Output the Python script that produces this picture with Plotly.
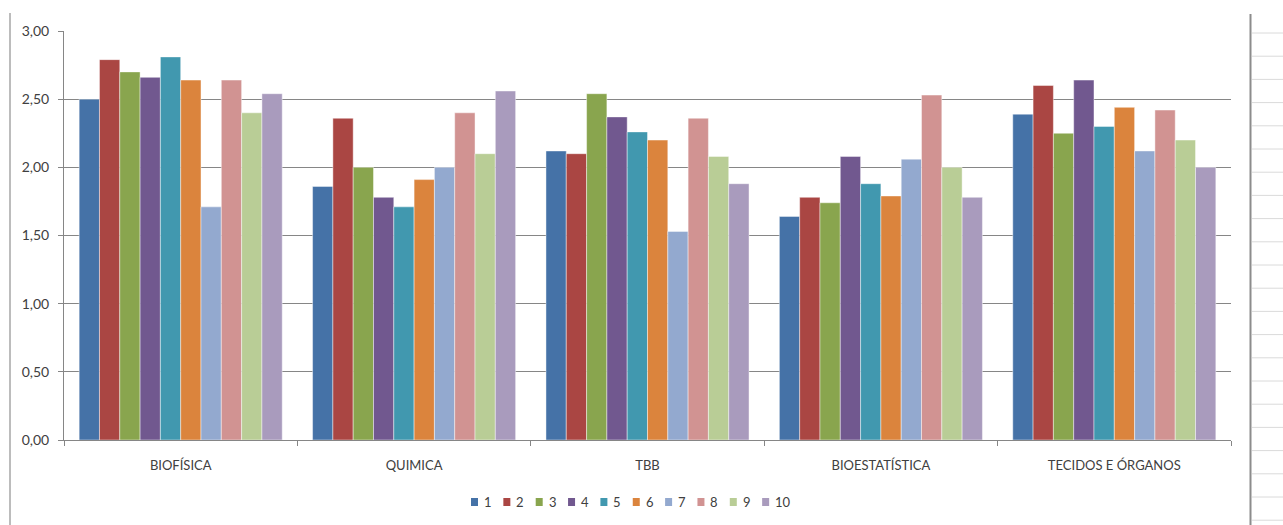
import plotly.graph_objects as go

# Disciplines on the category axis
categories = ["BIOFÍSICA", "QUIMICA", "TBB", "BIOESTATÍSTICA", "TECIDOS E ÓRGANOS"]

# One series per group 1..10 (values per discipline)
series_names = ["1", "2", "3", "4", "5", "6", "7", "8", "9", "10"]
s1 = [2.50, 1.86, 2.12, 1.64, 2.39]
s2 = [2.79, 2.36, 2.10, 1.78, 2.60]
s3 = [2.70, 2.00, 2.54, 1.74, 2.25]
s4 = [2.66, 1.78, 2.37, 2.08, 2.64]
s5 = [2.81, 1.71, 2.26, 1.88, 2.30]
s6 = [2.64, 1.91, 2.20, 1.79, 2.44]
s7 = [1.71, 2.00, 1.53, 2.06, 2.12]
s8 = [2.64, 2.40, 2.36, 2.53, 2.42]
s9 = [2.40, 2.10, 2.08, 2.00, 2.20]
s10 = [2.54, 2.56, 1.88, 1.78, 2.00]
series_values = [s1, s2, s3, s4, s5, s6, s7, s8, s9, s10]

y_ticks = [0, 0.5, 1.0, 1.5, 2.0, 2.5, 3.0]

colors = ["#4572A7", "#AA4643", "#89A54E", "#71588F", "#4198AF",
          "#DB843D", "#93A9CF", "#D19392", "#B9CD96", "#A99BBD"]

W, H = 1283, 525
PL, PR, PT, PB = 64, 1231, 31, 440
FONT = "Lato"
TXT = "#404040"
AXIS = "#868686"


def fx(p):
    return (p - PL) / (PR - PL)


def fy(p):
    return (PB - p) / (PB - PT)


fig = go.Figure()
for name, vals, col in zip(series_names, series_values, colors):
    fig.add_trace(go.Bar(
        x=categories, y=vals, name=name, showlegend=False,
        marker=dict(color=col, line=dict(color="rgba(255,255,255,0.55)", width=0.8)),
    ))

shapes = []
annotations = []

# chart-area frame lines and the worksheet cells to its right
shapes.append(dict(type="line", xref="paper", yref="paper",
                   x0=fx(10), x1=fx(10), y0=fy(13), y1=fy(530),
                   line=dict(color="#a6a6a6", width=1.5)))
shapes.append(dict(type="line", xref="paper", yref="paper",
                   x0=fx(1250.5), x1=fx(1250.5), y0=fy(14), y1=fy(530),
                   line=dict(color="#8c8c8c", width=2)))
for k in range(22):
    yy = 33 + 23.2 * k
    shapes.append(dict(type="line", xref="paper", yref="paper",
                       x0=fx(1252), x1=fx(1290), y0=fy(yy), y1=fy(yy),
                       line=dict(color="#dadada", width=1)))

# legend row: small squares followed by the series name
for i, (name, col) in enumerate(zip(series_names, colors)):
    x0 = 471 + 32.35 * i
    shapes.append(dict(type="rect", xref="paper", yref="paper",
                       x0=fx(x0), x1=fx(x0 + 7), y0=fy(498), y1=fy(506),
                       fillcolor=col, line=dict(width=0)))
    annotations.append(dict(text=name, xref="paper", yref="paper",
                            x=fx(x0 + 11), y=fy(502), xanchor="left", yanchor="middle",
                            showarrow=False, font=dict(family=FONT, size=13, color=TXT)))

fig.update_layout(
    width=W, height=H,
    margin=dict(l=PL, r=W - PR, t=PT, b=H - PB),
    paper_bgcolor="white", plot_bgcolor="white",
    barmode="group", bargap=0.13, bargroupgap=0,
    separators=",.",
    showlegend=False,
    shapes=shapes, annotations=annotations,
    font=dict(family=FONT, color=TXT),
)
fig.update_xaxes(
    type="category", showgrid=False, showline=True, linecolor=AXIS, linewidth=1,
    ticks="outside", tickson="boundaries", ticklen=5, tickcolor=AXIS,
    tickfont=dict(family=FONT, size=13, color=TXT), ticklabelstandoff=13,
)
fig.update_yaxes(
    range=[0, 3], tickvals=y_ticks, tickformat=".2f",
    showgrid=True, gridcolor=AXIS, gridwidth=1, zeroline=False,
    showline=True, linecolor=AXIS, linewidth=1,
    ticks="outside", ticklen=5, tickcolor=AXIS,
    tickfont=dict(family=FONT, size=14, color=TXT), ticklabelstandoff=6,
)

fig.write_html("out.html")
